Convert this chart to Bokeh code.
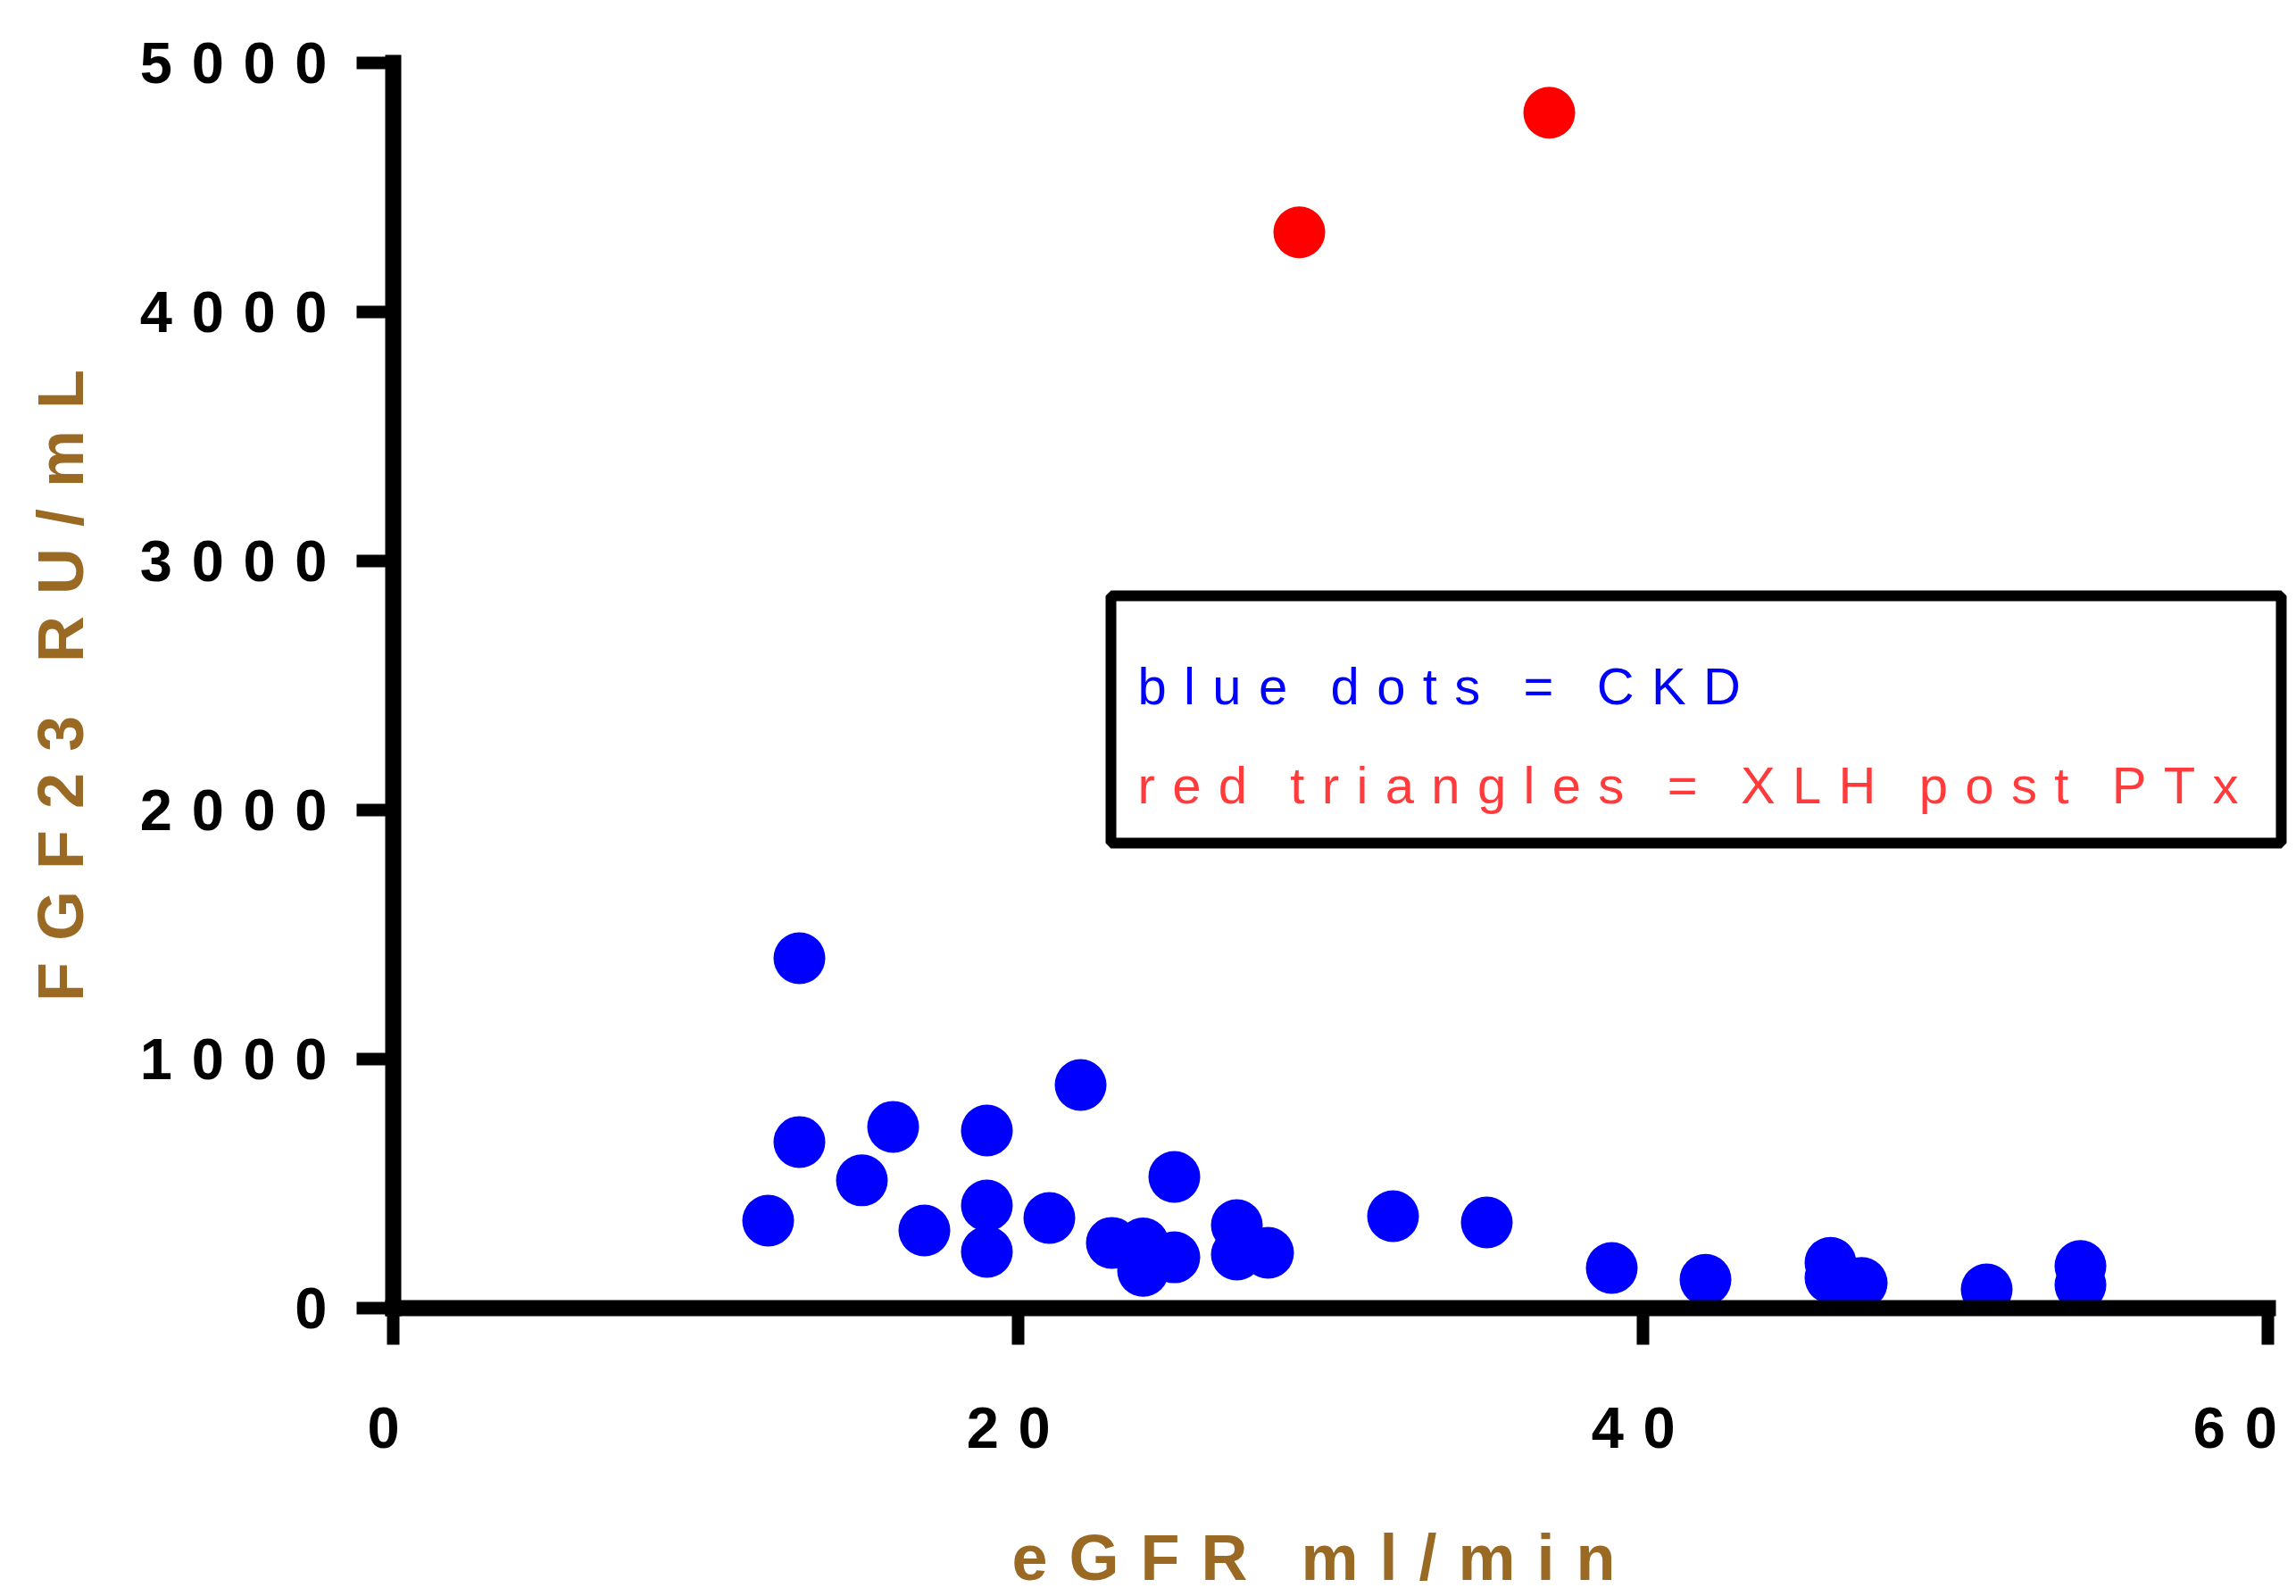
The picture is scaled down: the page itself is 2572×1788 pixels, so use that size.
from bokeh.plotting import figure
from bokeh.models import Range1d, FixedTicker, Label, BoxAnnotation
from bokeh.embed import file_html
from bokeh.resources import INLINE

# ---------------- data ----------------
ckd_egfr = [12, 13, 13, 15, 16, 17, 19, 19, 19, 21, 22, 23, 24, 24, 25, 25, 27, 27, 28,
            32, 35, 39, 42, 46, 46, 47, 51, 54, 54]
ckd_fgf23 = [351, 1405, 667, 513, 728, 312, 713, 412, 226, 362, 896, 262, 260, 150, 527, 204,
             333, 215, 222, 369, 344, 161, 114, 182, 122, 101, 75, 169, 93]
xlh_egfr = [29, 37]
xlh_fgf23 = [4320, 4800]

x_ticks = [0, 20, 40, 60]
y_ticks = [0, 1000, 2000, 3000, 4000, 5000]
x_title = "eGFR ml/min"
y_title = "FGF23 RU/mL"
legend_ckd = "blue dots = CKD"
legend_xlh = "red triangles = XLH post PTx"

# ---------------- styling helpers ----------------
GAP = "\u2004"            # letter gap (three-per-em space)
WORD = "\u2002\u2004"     # word gap


def spaced(s):
    return WORD.join(GAP.join(w) for w in s.split(" "))


FONT = "Liberation Sans"
BROWN = "#9A6A25"

W, H = 2572, 1788
FL, FT, FR, FB = 440, 70, 10, 323
Y_TOP = 5000.0
PX_X = 35.0                              # px per eGFR unit
x_end = (W - FL - FR) / PX_X
PX_Y = (H - FT - FB) / Y_TOP             # px per RU/mL


def dx(page_x):
    return (page_x - FL) / PX_X


def dy(page_y):
    return (H - FB - page_y) / PX_Y


p = figure(width=W, height=H, output_backend="svg", toolbar_location=None,
           x_range=Range1d(0, x_end), y_range=Range1d(0, Y_TOP),
           min_border_left=FL, min_border_top=FT, min_border_right=FR, min_border_bottom=FB)
p.grid.visible = False
p.outline_line_color = None
p.background_fill_color = "white"
p.border_fill_color = "white"

p.scatter(ckd_egfr, ckd_fgf23, size=58, color="#0000FF", line_color=None)
p.scatter(xlh_egfr, xlh_fgf23, size=58, color="#FF0000", line_color=None)

for ax, ticks in ((p.xaxis[0], x_ticks), (p.yaxis[0], y_ticks)):
    ax.ticker = FixedTicker(ticks=ticks)
    ax.bounds = (ticks[0], ticks[-1])
    ax.axis_line_width = 18
    ax.axis_line_cap = "square"
    ax.axis_line_color = "black"
    ax.major_tick_line_width = 14
    ax.major_tick_line_color = "black"
    ax.major_tick_out = 41
    ax.major_tick_in = 0
    ax.minor_tick_line_color = None
    ax.major_label_text_font = FONT
    ax.major_label_text_font_size = "65px"
    ax.major_label_text_font_style = "bold"
    ax.major_label_text_color = "black"
    ax.axis_label_text_font = FONT
    ax.axis_label_text_font_size = "72px"
    ax.axis_label_text_font_style = "bold"
    ax.axis_label_text_color = BROWN

p.xaxis.major_label_overrides = {t: spaced(str(t)) + GAP for t in x_ticks}
p.yaxis.major_label_overrides = {t: spaced(str(t)) for t in y_ticks}
p.xaxis.axis_label = spaced(x_title) + WORD
p.yaxis.axis_label = spaced(y_title)
p.xaxis.major_label_standoff = 56
p.yaxis.major_label_standoff = 33
p.xaxis.axis_label_standoff = 66
p.yaxis.axis_label_standoff = 46

box = BoxAnnotation(left=dx(1244), right=dx(2555), top=dy(667), bottom=dy(944),
                    fill_color=None, fill_alpha=0, line_color="black", line_alpha=1.0,
                    line_width=12)
p.add_layout(box)

p.add_layout(Label(x=dx(1274), y=dy(768), text=spaced(legend_ckd), text_font=FONT,
                   text_font_size="58px", text_color="#0000FF", text_baseline="alphabetic"))
p.add_layout(Label(x=dx(1274), y=dy(879), text=spaced(legend_xlh), text_font=FONT,
                   text_font_size="58px", text_color="#FF3B3B", text_baseline="alphabetic"))

open("out.html", "w").write(file_html(p, INLINE))
